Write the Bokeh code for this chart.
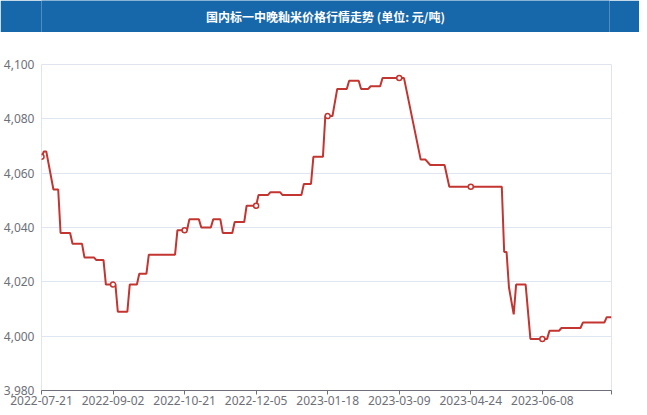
from bokeh.plotting import figure
from bokeh.layouts import column
from bokeh.models import Range1d, FixedTicker, NumeralTickFormatter, ColumnDataSource
from bokeh.core.properties import value
from bokeh.embed import file_html
from bokeh.resources import INLINE

title_text = "国内标一中晚籼米价格行情走势 (单位: 元/吨)"

# breakpoints of the price line (trading-day index, price)
day_idx = [0, 1, 2, 5, 7, 8, 12, 13, 17, 18, 22, 23, 26, 27, 31, 32, 36, 37, 40, 41,
           44, 45, 56, 57, 61, 62, 66, 67, 71, 72, 75, 76, 80, 81, 85, 86, 90, 91, 95, 96,
           100, 101, 109, 110, 113, 114, 118, 119, 122, 124, 128, 129, 133, 134, 137, 138,
           142, 143, 152, 159, 161, 163, 169, 171, 193, 194, 195, 196, 198, 199, 203, 205,
           212, 213, 217, 218, 226, 227, 236, 237, 239]
price = [4066, 4068, 4068, 4054, 4054, 4038, 4038, 4034, 4034, 4029, 4029, 4028, 4028, 4019,
         4019, 4009, 4009, 4019, 4019, 4023, 4023, 4030, 4030, 4039, 4039, 4043, 4043, 4040,
         4040, 4043, 4043, 4038, 4038, 4042, 4042, 4048, 4048, 4052, 4052, 4053, 4053, 4052,
         4052, 4056, 4056, 4066, 4066, 4081, 4081, 4091, 4091, 4094, 4094, 4091, 4091, 4092,
         4092, 4095, 4095, 4065, 4065, 4063, 4063, 4055, 4055, 4031, 4031, 4018, 4008, 4019,
         4019, 3999, 3999, 4002, 4002, 4003, 4003, 4005, 4005, 4007, 4007]

marker_idx = [0, 30, 60, 90, 120, 150, 180, 210]
marker_price = [4066, 4019, 4039, 4048, 4081, 4095, 4055, 3999]

tick_idx = [0, 30, 60, 90, 120, 150, 180, 210, 239]
tick_labels = ["2022-07-21", "2022-09-02", "2022-10-21", "2022-12-05", "2023-01-18",
               "2023-03-09", "2023-04-24", "2023-06-08", ""]
y_ticks = [3980, 4000, 4020, 4040, 4060, 4080, 4100]

FONT = "Noto Sans"
AXIS_GRAY = "#6E7079"
LINE_RED = "#c23531"

# title bar
tb = figure(width=639, height=32, x_range=Range1d(0, 1), y_range=Range1d(0, 1),
            toolbar_location=None, output_backend="svg", min_border=0,
            background_fill_color="#1767ab", border_fill_color="#1767ab",
            outline_line_color=None)
tb.axis.visible = False
tb.grid.visible = False
tb.text(x=[0.5], y=[0.5], text=[title_text], text_align="center", text_baseline="middle",
        text_color="white", text_font_style="bold", text_font_size="12px",
        text_font=value("Noto Sans CJK SC"))

p = figure(frame_width=570, frame_height=326, toolbar_location=None, output_backend="svg",
           x_range=Range1d(0, 239), y_range=Range1d(3980, 4100),
           min_border_left=39, min_border_right=30, min_border_top=32, min_border_bottom=10,
           outline_line_color="#dfe4ee", background_fill_color="white",
           border_fill_color="white")

p.xgrid.visible = False
p.ygrid.ticker = FixedTicker(ticks=y_ticks)
p.ygrid.grid_line_color = "#E0E6F1"
p.ygrid.grid_line_width = 1

p.yaxis.ticker = FixedTicker(ticks=y_ticks)
p.yaxis.formatter = NumeralTickFormatter(format="0,0")
p.yaxis.axis_line_color = None
p.yaxis.major_tick_line_color = None
p.yaxis.minor_tick_line_color = None
p.yaxis.major_tick_out = 0
p.yaxis.major_label_standoff = 7
p.yaxis.major_label_text_color = AXIS_GRAY
p.yaxis.major_label_text_font_size = "12px"
p.yaxis.major_label_text_font = FONT

p.xaxis.ticker = FixedTicker(ticks=tick_idx)
p.xaxis.major_label_overrides = {t: l for t, l in zip(tick_idx, tick_labels)}
p.xaxis.axis_line_color = AXIS_GRAY
p.xaxis.major_tick_line_color = AXIS_GRAY
p.xaxis.minor_tick_line_color = None
p.xaxis.major_tick_out = 4
p.xaxis.major_tick_in = 0
p.xaxis.major_label_standoff = 1
p.xaxis.major_label_text_color = AXIS_GRAY
p.xaxis.major_label_text_font_size = "12px"
p.xaxis.major_label_text_font = FONT

src = ColumnDataSource(dict(x=day_idx, y=price))
p.line("x", "y", source=src, line_color=LINE_RED, line_width=2)
msrc = ColumnDataSource(dict(x=marker_idx, y=marker_price))
p.scatter("x", "y", source=msrc, size=5, marker="circle", fill_color="white",
          line_color=LINE_RED, line_width=1.5)

layout = column(tb, p, spacing=0, margin=(0, 0, -10, 0))

open("out.html", "w").write(file_html(layout, INLINE))
